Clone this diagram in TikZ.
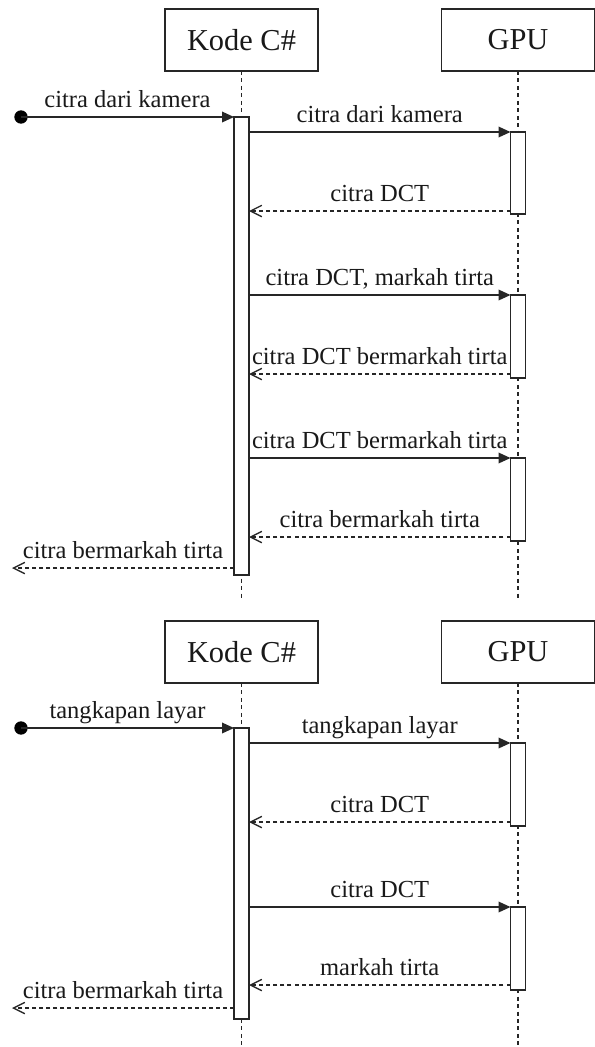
\documentclass[tikz,border=0pt]{standalone}
\usepackage{fontspec}
\setmainfont{Liberation Serif}
\usetikzlibrary{arrows.meta}
\begin{document}
\begin{tikzpicture}[x=0.75pt,y=-0.75pt,
  every node/.style={inner sep=0pt,outer sep=0pt},
  headbox/.style={draw=black!85,line width=1pt,fill=white,minimum width=114.75pt,minimum height=46.5pt,font=\fontsize{22.8}{26}\selectfont,text=black!90},
  actbar/.style={draw=black!85,line width=1pt,fill=white,minimum width=11.25pt},
  life/.style={draw=black!85,line width=1pt,dash pattern=on 3pt off 2.6pt},
  startdot/.style={circle,fill=black,minimum size=10pt},
  callmsg/.style={draw=black!85,line width=1pt,-{Triangle[length=9pt,width=8pt]}},
  retmsg/.style={draw=black!85,line width=1pt,dash pattern=on 3pt off 2.3pt,-{Straight Barb[length=8.5pt,width=8.5pt,line width=1pt]}},
  lbl/.style={font=\fontsize{18.4}{22}\selectfont,text=black!90,anchor=base,yshift=6.9pt}]
\useasboundingbox (0,0) rectangle (595,1047);

% ---------------- top diagram ----------------
\node[headbox] (kc1) at (241.5,40) {Kode C\#};
\node[headbox] (gp1) at (518,40) {GPU};
\coordinate (kc1end) at (241.5,600);
\coordinate (gp1end) at (518,600);
\draw[life] (kc1.south) -- (kc1end);
\draw[life] (gp1.south) -- (gp1end);

\node[actbar,minimum height=343.5pt] (ca1) at (241.5,346) {};
\node[actbar,minimum height=61.5pt] (ga1) at (518,173) {};
\node[actbar,minimum height=62.25pt] (ga2) at (518,336.5) {};
\node[actbar,minimum height=62.25pt] (ga3) at (518,499.5) {};

\node[startdot] (d1) at (21,117) {};
\draw[callmsg] (d1.center) -- (ca1.north west) node[lbl,midway] {citra dari kamera};

\draw[callmsg] (ca1.east |- ga1.north) -- (ga1.north west) node[lbl,midway] {citra dari kamera};
\coordinate (r1) at (510.5,211);
\draw[retmsg] (r1) -- (ca1.east |- r1) node[lbl,midway] {citra DCT};

\draw[callmsg] (ca1.east |- ga2.north) -- (ga2.north west) node[lbl,midway] {citra DCT, markah tirta};
\coordinate (r2) at (510.5,374);
\draw[retmsg] (r2) -- (ca1.east |- r2) node[lbl,midway] {citra DCT bermarkah tirta};

\draw[callmsg] (ca1.east |- ga3.north) -- (ga3.north west) node[lbl,midway] {citra DCT bermarkah tirta};
\coordinate (r3) at (510.5,537);
\draw[retmsg] (r3) -- (ca1.east |- r3) node[lbl,midway] {citra bermarkah tirta};

\coordinate (f1) at (234,568);
\coordinate (e1) at (12,568);
\draw[retmsg] (f1) -- (e1) node[lbl,midway] {citra bermarkah tirta};

% ---------------- bottom diagram ----------------
\node[headbox] (kc2) at (241.5,652) {Kode C\#};
\node[headbox] (gp2) at (518,652) {GPU};
\coordinate (kc2end) at (241.5,1047);
\coordinate (gp2end) at (518,1047);
\draw[life] (kc2.south) -- (kc2end);
\draw[life] (gp2.south) -- (gp2end);

\node[actbar,minimum height=218.25pt] (ca2) at (241.5,873.5) {};
\node[actbar,minimum height=62.25pt] (gb1) at (518,784.5) {};
\node[actbar,minimum height=62.25pt] (gb2) at (518,948.5) {};

\node[startdot] (d2) at (21,728) {};
\draw[callmsg] (d2.center) -- (ca2.north west) node[lbl,midway] {tangkapan layar};

\draw[callmsg] (ca2.east |- gb1.north) -- (gb1.north west) node[lbl,midway] {tangkapan layar};
\coordinate (s1) at (510.5,822);
\draw[retmsg] (s1) -- (ca2.east |- s1) node[lbl,midway] {citra DCT};

\draw[callmsg] (ca2.east |- gb2.north) -- (gb2.north west) node[lbl,midway] {citra DCT};
\coordinate (s2) at (510.5,985);
\draw[retmsg] (s2) -- (ca2.east |- s2) node[lbl,midway] {markah tirta};

\coordinate (f2) at (234,1008);
\coordinate (e2) at (12,1008);
\draw[retmsg] (f2) -- (e2) node[lbl,midway] {citra bermarkah tirta};
\end{tikzpicture}
\end{document}
